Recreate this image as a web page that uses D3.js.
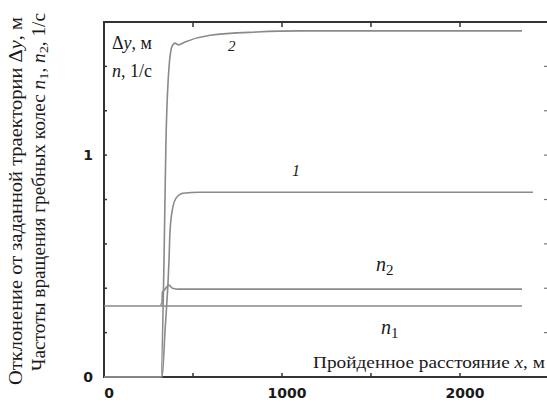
<!DOCTYPE html>
<html>
<head>
<meta charset="utf-8">
<script src="https://cdn.jsdelivr.net/npm/d3@7"></script>
<style>
  body { margin: 0; background: #fff; }
  svg { display: block; }
  .serif { font-family: "Liberation Serif", "DejaVu Serif", serif; fill: #1a1a1a; }
  .tick-lbl { font-family: "DejaVu Sans", Verdana, sans-serif; font-weight: bold; font-size: 14px; fill: #1a1a1a; }
</style>
</head>
<body>
<div id="chart"></div>
<script>
// Data (x in m, values in m or 1/s)
var xTicks = [0, 1000, 2000];
var xMinor = [500, 1500];
var yTicks = [0, 1];
var yMinor = [0.2, 0.4, 0.6, 0.8, 1.2, 1.4];

var dy2 = [[0, 0], [320, 0], [337, 0.52], [348, 1.06], [360, 1.33], [382, 1.49], [399, 1.505],
  [416, 1.497], [455, 1.51], [596, 1.54], [860, 1.555], [1101, 1.56], [2348, 1.56]];
var dy1 = [[0, 0], [326, 0], [343, 0.21], [365, 0.52], [371, 0.66], [388, 0.77], [404, 0.805],
  [444, 0.828], [539, 0.833], [2410, 0.833]];
var n2 = [[318, 0.325], [326, 0.335], [328, 0.383], [337, 0.39], [365, 0.414], [385, 0.40],
  [420, 0.396], [2348, 0.396]];
var n1 = [[0, 0.32], [2348, 0.32]];

var W = 547, H = 411;
var svg = d3.select('#chart').append('svg')
  .attr('width', W).attr('height', H);

var x = d3.scaleLinear().domain([0, 2500]).range([104, 549]);
var y = d3.scaleLinear().domain([0, 1.6]).range([377, 22]);

// frame
var axisColor = '#333';
svg.append('path')
  .attr('d', 'M' + x(2500) + ',' + y(1.6) + 'H' + x(0) + 'V' + y(0) + 'H' + x(2500))
  .attr('fill', 'none').attr('stroke', axisColor).attr('stroke-width', 2);

// ticks
var allX = xTicks.concat(xMinor).filter(function(d) { return d > 0; });
svg.selectAll('.xt-bot').data(allX).enter().append('line')
  .attr('x1', function(d) { return x(d); }).attr('x2', function(d) { return x(d); })
  .attr('y1', y(0)).attr('y2', y(0) - 4)
  .attr('stroke', axisColor).attr('stroke-width', 1.5);
svg.selectAll('.xt-top').data(allX).enter().append('line')
  .attr('x1', function(d) { return x(d); }).attr('x2', function(d) { return x(d); })
  .attr('y1', y(1.6)).attr('y2', y(1.6) + 5)
  .attr('stroke', axisColor).attr('stroke-width', 1.5);
var allY = yTicks.concat(yMinor).filter(function(d) { return d > 0; });
svg.selectAll('.yt-left').data(allY).enter().append('line')
  .attr('x1', x(0)).attr('x2', x(0) + 3)
  .attr('y1', function(d) { return y(d); }).attr('y2', function(d) { return y(d); })
  .attr('stroke', axisColor).attr('stroke-width', 1.5);
svg.selectAll('.yt-right').data(allY).enter().append('line')
  .attr('x1', W - 3).attr('x2', W)
  .attr('y1', function(d) { return y(d); }).attr('y2', function(d) { return y(d); })
  .attr('stroke', '#777').attr('stroke-width', 1.2);

// tick labels
svg.selectAll('.xl').data(xTicks).enter().append('text')
  .attr('class', 'tick-lbl')
  .attr('x', function(d) { return x(d) + 5; }).attr('y', 398)
  .attr('text-anchor', 'middle')
  .text(function(d) { return d; });
svg.selectAll('.yl').data(yTicks).enter().append('text')
  .attr('class', 'tick-lbl')
  .attr('x', 88).attr('y', function(d) { return y(d) + 5; })
  .attr('text-anchor', 'middle')
  .text(function(d) { return d; });

// curves
var line = d3.line().x(function(d) { return x(d[0]); }).y(function(d) { return y(d[1]); })
  .curve(d3.curveMonotoneX);
[n1, n2, dy1, dy2].forEach(function(s) {
  svg.append('path').datum(s).attr('d', line)
    .attr('fill', 'none').attr('stroke', '#8a8a8a').attr('stroke-width', 1.6);
});

// labels inside plot
function rich(t, parts) {
  parts.forEach(function(p) {
    var ts = t.append('tspan').text(p.t);
    if (p.i) ts.attr('font-style', 'italic');
    if (p.sub) ts.attr('dy', '0.25em').attr('font-size', '0.75em');
    if (p.back) ts.attr('dy', '-0.19em');
  });
  return t;
}
rich(svg.append('text').attr('class', 'serif').attr('x', 112).attr('y', 49).attr('font-size', 18),
  [{ t: 'Δ' }, { t: 'y', i: 1 }, { t: ', м' }]);
rich(svg.append('text').attr('class', 'serif').attr('x', 112).attr('y', 77).attr('font-size', 18),
  [{ t: 'n', i: 1 }, { t: ', 1/с' }]);
svg.append('text').attr('class', 'serif').attr('x', 228).attr('y', 51)
  .attr('font-size', 15).attr('font-style', 'italic').text('2');
svg.append('text').attr('class', 'serif').attr('x', 292).attr('y', 176)
  .attr('font-size', 16).attr('font-style', 'italic').text('1');
rich(svg.append('text').attr('class', 'serif').attr('x', 376).attr('y', 271).attr('font-size', 20),
  [{ t: 'n', i: 1 }, { t: '2', sub: 1 }]);
rich(svg.append('text').attr('class', 'serif').attr('x', 381).attr('y', 334).attr('font-size', 20),
  [{ t: 'n', i: 1 }, { t: '1', sub: 1 }]);
rich(svg.append('text').attr('class', 'serif').attr('x', 313).attr('y', 368)
  .attr('font-size', 17).attr('textLength', 232).attr('lengthAdjust', 'spacingAndGlyphs'),
  [{ t: 'Пройденное расстояние ' }, { t: 'x', i: 1 }, { t: ', м' }]);

// y titles (rotated)
var t1 = svg.append('text').attr('class', 'serif').attr('font-size', 18)
  .attr('x', -385).attr('y', 22).attr('transform', 'rotate(-90)')
  .attr('textLength', 368).attr('lengthAdjust', 'spacingAndGlyphs');
rich(t1, [{ t: 'Отклонение от заданной траектории Δ' }, { t: 'y', i: 1 }, { t: ', м' }]);
var t2 = svg.append('text').attr('class', 'serif').attr('font-size', 18)
  .attr('x', -371).attr('y', 45).attr('transform', 'rotate(-90)')
  .attr('textLength', 358).attr('lengthAdjust', 'spacingAndGlyphs');
rich(t2, [{ t: 'Частоты вращения гребных колес ' }, { t: 'n', i: 1 }, { t: '1', sub: 1 },
  { t: ', ', back: 1 }, { t: 'n', i: 1 }, { t: '2', sub: 1 }, { t: ', 1/с', back: 1 }]);
</script>
</body>
</html>
